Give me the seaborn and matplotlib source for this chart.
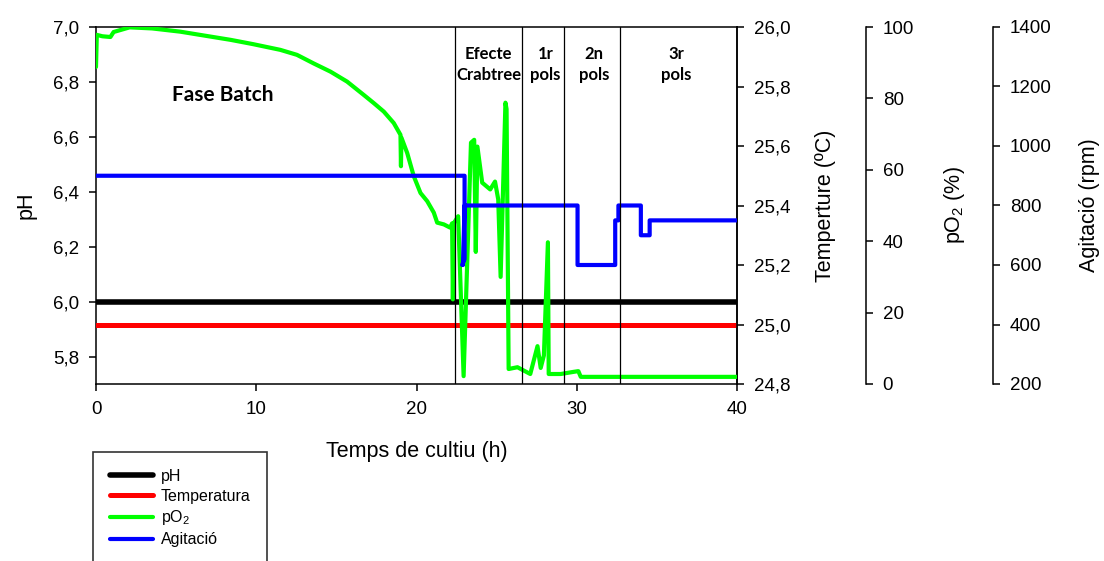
import matplotlib
matplotlib.use("Agg")
import matplotlib.pyplot as plt
import seaborn as sns
import pandas as pd
from matplotlib.ticker import FuncFormatter

sns.set_style("ticks")
plt.rcParams['font.family'] = ['Liberation Sans', 'DejaVu Sans']
plt.rcParams['mathtext.fontset'] = 'custom'
plt.rcParams['mathtext.rm'] = 'Liberation Sans'
plt.rcParams['mathtext.it'] = 'Liberation Sans'
for k in ['text.color', 'axes.labelcolor', 'xtick.color', 'ytick.color', 'axes.edgecolor']:
    plt.rcParams[k] = 'black'

# data
t_const = [0, 40]
ph_val = [6.0, 6.0]
temp_val = [25.0, 25.0]

t_po2 = [0.0, 0.05, 0.4, 0.9, 1.1, 2.1, 3.5, 5.25, 8.4, 9.8, 11.5, 12.54, 13.58, 14.63,
         15.67, 16.7, 17.33, 17.96, 18.58, 19.0, 19.03, 19.06, 19.42, 19.83, 20.25, 20.67,
         21.08, 21.29, 21.71, 22.1, 22.22, 22.27, 22.32, 22.6, 22.94,
         23.4, 23.6, 23.7, 23.8, 24.1, 24.6, 24.9, 25.1, 25.25, 25.55, 25.62, 25.75,
         26.3, 27.1, 27.55, 27.75, 27.95, 28.2, 28.25, 29.0, 29.8, 30.1, 30.25, 35.0, 40.0]
po2 = [88.8, 97.8, 97.4, 97.2, 98.6, 99.9, 99.6, 98.7, 96.4, 95.2, 93.6, 92.2, 89.8, 87.5,
       84.7, 81.0, 78.7, 76.3, 73.1, 69.8, 61.0, 69.0, 64.7, 58.2, 53.5, 51.2,
       48.0, 45.2, 44.7, 43.8, 45.0, 23.7, 45.0, 47.0, 2.2,
       67.6, 68.4, 37.0, 66.5, 56.4, 54.5, 56.7, 51.7, 30.0, 78.8, 77.0, 4.2,
       4.7, 2.8, 10.6, 4.5, 8.0, 39.7, 2.8, 2.8, 3.4, 3.6, 2.0, 2.0, 2.0]

t_agit = [0, 23.0, 23.0, 22.85, 22.9, 23.0, 30.05, 30.05, 32.4, 32.4, 32.6, 32.6,
          34.0, 34.0, 34.55, 34.55, 40]
agit = [900, 900, 620, 600, 600, 800, 800, 600, 600, 750, 750, 800,
        800, 700, 700, 750, 750]

phase_x = [22.4, 26.6, 29.2, 32.7]
phase_labels = ["Efecte\nCrabtree", "1r\npols", "2n\npols", "3r\npols"]
phase_label_x = [24.5, 28.06, 31.06, 36.2]

ph_ticks = [5.8, 6.0, 6.2, 6.4, 6.6, 6.8, 7.0]
temp_ticks = [24.8, 25.0, 25.2, 25.4, 25.6, 25.8, 26.0]
po2_ticks = [0, 20, 40, 60, 80, 100]
agit_ticks = [200, 400, 600, 800, 1000, 1200, 1400]

fig = plt.figure(figsize=(11.04, 5.61), dpi=100)
ax = fig.add_axes([96/1104, 1-384/561, (737-96)/1104, (384-27)/561])
ax2 = ax.twinx()
ax3 = ax.twinx()
ax4 = ax.twinx()

lw_sp = 1.1
tick_fs = 13.5
lab_fs = 15.5

sns.lineplot(x=t_const, y=ph_val, ax=ax, color='black', lw=4, label='pH', legend=False)
sns.lineplot(x=t_const, y=temp_val, ax=ax2, color='#ff0000', lw=3.6, label='Temperatura', legend=False)
sns.lineplot(x=t_po2, y=po2, ax=ax3, color='#00ff00', lw=3, sort=False, estimator=None,
             label='pO$_2$', legend=False)
sns.lineplot(x=t_agit, y=agit, ax=ax4, color='#0000ff', lw=3, sort=False, estimator=None,
             label='Agitació', legend=False)

for xv in phase_x:
    ax4.axvline(xv, color='black', lw=0.9)

comma = FuncFormatter(lambda v, p: f"{v:.1f}".replace('.', ','))

ax.set_xlim(0, 40)
ax.set_ylim(5.7, 7.0)
ax.set_xticks([0, 10, 20, 30, 40])
ax.set_yticks(ph_ticks)
ax.yaxis.set_major_formatter(comma)
ax.set_xlabel("Temps de cultiu (h)", fontsize=lab_fs, labelpad=17)
ax.set_ylabel("pH", fontsize=lab_fs, labelpad=12)

ax2.set_ylim(24.8, 26.0)
ax2.set_yticks(temp_ticks)
ax2.yaxis.set_major_formatter(comma)
ax2.set_ylabel("Temperture (ºC)", fontsize=lab_fs, labelpad=18)

ax3.set_ylim(0, 100)
ax3.set_yticks(po2_ticks)
ax3.spines['right'].set_position(('axes', (866-96)/(737-96)))
ax3.set_ylabel("pO$_2$ (%)", fontsize=lab_fs, labelpad=20)

ax4.set_ylim(200, 1400)
ax4.set_yticks(agit_ticks)
ax4.spines['right'].set_position(('axes', (993-96)/(737-96)))
ax4.set_ylabel("Agitació (rpm)", fontsize=lab_fs, labelpad=20)

for a in [ax, ax2, ax3, ax4]:
    a.tick_params(direction='out', length=5, width=lw_sp, labelsize=tick_fs, pad=7, color='black')
    for s in a.spines.values():
        s.set_linewidth(lw_sp)
        s.set_color('black')
for a in [ax2, ax3, ax4]:
    for side in ['left', 'top', 'bottom']:
        a.spines[side].set_visible(False)
ax.spines['top'].set_visible(True)
ax.spines['right'].set_visible(True)

# region labels
ax4.text(7.9, 6.754, "Fase Batch", transform=ax.transData, family=['Lato', 'DejaVu Sans'],
         fontweight='bold', fontsize=15, ha='center', va='center')
for lx, lt in zip(phase_label_x, phase_labels):
    ax4.text(lx, 6.862, lt, transform=ax.transData, family=['Lato', 'DejaVu Sans'],
             fontweight='bold', fontsize=12, ha='center', va='center', linespacing=1.4)

handles = []
labels = []
for a in [ax, ax2, ax3, ax4]:
    h, l = a.get_legend_handles_labels()
    handles += h
    labels += l
leg = fig.legend(handles, labels, loc='upper left', bbox_to_anchor=(93/1104, 1-452/561),
                 frameon=True, fancybox=False, edgecolor='black', fontsize=11.5,
                 handlelength=2.7, handletextpad=0.5, labelspacing=0.3, borderpad=1.05,
                 borderaxespad=0)
leg.get_frame().set_linewidth(1.2)

fig.savefig("out.png", dpi=100)
